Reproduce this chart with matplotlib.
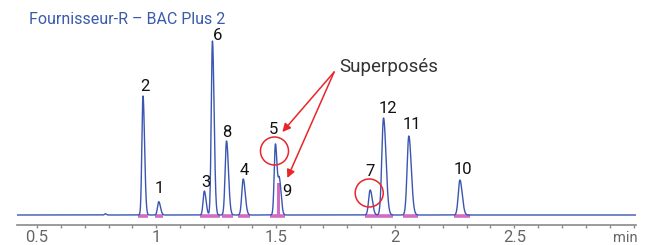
import numpy as np
import matplotlib
matplotlib.use("Agg")
import matplotlib.pyplot as plt
from matplotlib.patches import Ellipse

# ---------------- data ----------------
peak_labels = ["2", "1", "3", "6", "8", "4", "5", "9", "7", "12", "11", "10", ""]
peak_times = [0.944, 1.010, 1.201, 1.235, 1.294, 1.364, 1.499, 1.516, 1.896, 1.952, 2.058, 2.272, 0.786]
peak_heights = [119, 13.3, 24, 174, 74, 36, 71, 33, 25, 97, 79, 35, 1.2]
peak_sigmas = [0.0055, 0.0060, 0.0060, 0.0058, 0.0068, 0.0070, 0.0060, 0.0060, 0.0075, 0.0085, 0.0085, 0.0080, 0.004]

# label anchor (time, signal) for each peak number
label_times = [0.953, 1.012, 1.209, 1.256, 1.297, 1.370, 1.490, 1.549, 1.897, 1.972, 2.069, 2.283]
label_heights = [124, 22, 28, 175, 78, 40, 81, 19, 39, 102, 86, 41]

# integration marks (start, end) in minutes
integ_start = [0.924, 0.995, 1.184, 1.226, 1.276, 1.343, 1.477, 1.876, 1.926, 2.035, 2.249]
integ_end = [0.966, 1.029, 1.226, 1.268, 1.322, 1.393, 1.540, 1.926, 1.993, 2.098, 2.316]
fill9_start, fill9_end, fill9_height = 1.507, 1.519, 32

xticks_major = [0.5, 1.0, 1.5, 2.0, 2.5, 3.0]
xtick_labels = ["0.5", "1", "1.5", "2", "2.5", ""]

title = "Fournisseur-R – BAC Plus 2"
note = "Superposés"

# ---------------- drawing ----------------
W, H = 648, 245
fig = plt.figure(figsize=(W / 100, H / 100), dpi=100)
ax_l, ax_r, ax_b, ax_t = 17, 636, 224.5, 0
ax = fig.add_axes([ax_l / W, (H - ax_b) / H, (ax_r - ax_l) / W, (ax_b - ax_t) / H])
xmin, xmax = 0.416, 3.01
ax.set_xlim(xmin, xmax)
ax.set_ylim(-9.5, 215)

font = ["Roboto", "DejaVu Sans"]
blue = "#3a56b0"
pink = "#d26cc0"

t = np.linspace(xmin, xmax, 8000)
y = np.zeros_like(t)
for tc, hh, s in zip(peak_times, peak_heights, peak_sigmas):
    sl, sr = s * 0.85, s * 1.2
    sig = np.where(t < tc, sl, sr)
    y += hh * np.exp(-0.5 * ((t - tc) / sig) ** 2)

for a, b in zip(integ_start, integ_end):
    ax.plot([a, b], [-0.5, -0.5], color=pink, lw=2.6, solid_capstyle="butt", zorder=2)
ax.fill_between([fill9_start, fill9_end], 0, fill9_height, color=pink, lw=0, zorder=2)

ax.plot(t, y, color=blue, lw=1.0, zorder=3)

for lab, lt, lh in zip(peak_labels, label_times, label_heights):
    ax.text(lt, lh, lab, ha="center", va="baseline", fontsize=12,
            family=font, color="#111111")

# circles around overlapping peaks
pxmin = 238.4  # pixels per minute
for idx, dy in [(6, -7), (8, -3)]:
    e = Ellipse((peak_times[idx] - 0.004, peak_heights[idx] + dy), width=28 / pxmin, height=28,
                fill=False, edgecolor="#e8262a", lw=1.1, zorder=4)
    ax.add_patch(e)

# note + arrows
ax.text(1.768, 143, note, ha="left", va="baseline", fontsize=13.5, family=font, color="#333333")
for (xt, yt) in [(1.528, 83), (1.549, 37)]:
    ax.annotate("", xy=(xt, yt), xytext=(1.745, 143),
                arrowprops=dict(arrowstyle="-|>", color="#e8262a", lw=1.1,
                                mutation_scale=12, shrinkA=0, shrinkB=0), zorder=5)

# axes styling
for sp in ["top", "right", "left"]:
    ax.spines[sp].set_visible(False)
ax.spines["bottom"].set_color("#8a8a8a")
ax.spines["bottom"].set_linewidth(1.2)
ax.set_yticks([])
ax.set_xticks(xticks_major)
ax.set_xticklabels(xtick_labels)
ax.set_xticks(np.arange(0.6, 3.0, 0.1), minor=True)
ax.tick_params(axis="x", which="both", direction="out", length=2.5, width=1,
               color="#8a8a8a", labelcolor="#666666", labelsize=12, pad=1.5)
for lbl in ax.get_xticklabels():
    lbl.set_family(font)

fig.text(638 / W, 1 - 242 / H, "min", ha="right", va="baseline", fontsize=10.5,
         family=font, color="#666666")
fig.text(29 / W, 1 - 24 / H, title, ha="left", va="baseline", fontsize=11.5,
         family=font, color="#3a5bab")

fig.savefig("out.png", dpi=100)
